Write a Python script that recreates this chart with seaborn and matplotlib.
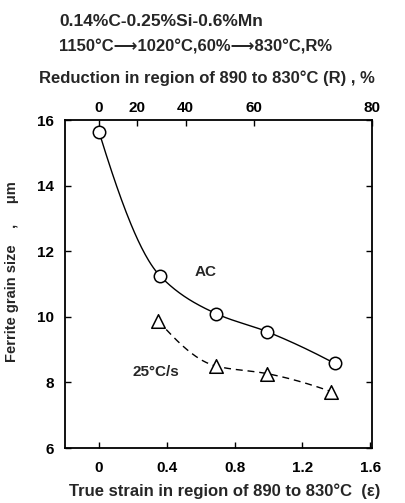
import numpy as np
import pandas as pd
import matplotlib
matplotlib.use("Agg")
import matplotlib.pyplot as plt
import seaborn as sns

# air cooled (AC)
ac_strain = [0.0, 0.36, 0.69, 0.99, 1.39]
ac_size = [15.65, 11.25, 10.1, 9.55, 8.58]
# cooled at 25 C/s
fc_strain = [0.35, 0.69, 0.99, 1.37]
fc_size = [9.88, 8.5, 8.27, 7.72]

strain_ticks = [0, 0.4, 0.8, 1.2, 1.6]
size_ticks = [6, 8, 10, 12, 14, 16]
reduction_ticks = [0, 20, 40, 60, 80]


def smooth(x, y, n=200):
    # monotone cubic (pchip) through the measured points, only used to draw the curve
    x = np.asarray(x, float)
    y = np.asarray(y, float)
    h = np.diff(x)
    d = np.diff(y) / h
    m = np.zeros_like(y)
    for k in range(1, len(x) - 1):
        if d[k - 1] * d[k] > 0:
            w1 = 2 * h[k] + h[k - 1]
            w2 = h[k] + 2 * h[k - 1]
            m[k] = (w1 + w2) / (w1 / d[k - 1] + w2 / d[k])
    m[0] = ((2 * h[0] + h[1]) * d[0] - h[0] * d[1]) / (h[0] + h[1])
    m[-1] = ((2 * h[-1] + h[-2]) * d[-1] - h[-1] * d[-2]) / (h[-1] + h[-2])
    xs = np.linspace(x[0], x[-1], n)
    idx = np.clip(np.searchsorted(x, xs) - 1, 0, len(x) - 2)
    t = (xs - x[idx]) / h[idx]
    h00 = 2 * t**3 - 3 * t**2 + 1
    h10 = t**3 - 2 * t**2 + t
    h01 = -2 * t**3 + 3 * t**2
    h11 = t**3 - t**2
    ys = h00 * y[idx] + h10 * h[idx] * m[idx] + h01 * y[idx + 1] + h11 * h[idx] * m[idx + 1]
    return pd.DataFrame({"strain": xs, "size": ys})


sns.set_theme(style="ticks")
plt.rcParams["font.family"] = ["Liberation Sans", "DejaVu Sans"]
plt.rcParams["font.weight"] = "bold"
plt.rcParams["axes.labelweight"] = "bold"
plt.rcParams["font.size"] = 11

fig = plt.figure(figsize=(4.05, 5.03), dpi=100)
ax = fig.add_axes([0.1605, 0.1093, 0.758, 0.652])

ac_curve = smooth(ac_strain, ac_size)
fc_curve = smooth(fc_strain, fc_size)
sns.lineplot(data=ac_curve, x="strain", y="size", sort=False, estimator=None,
             color="black", lw=1.0, ax=ax)
sns.lineplot(data=fc_curve, x="strain", y="size", sort=False, estimator=None,
             color="black", lw=1.0, linestyle=(0, (5, 3.5)), ax=ax)
sns.scatterplot(x=ac_strain, y=ac_size, marker="o", s=80, facecolor="white",
                edgecolor="black", linewidth=1.1, zorder=3, ax=ax)
sns.scatterplot(x=fc_strain, y=fc_size, marker="^", s=95, facecolor="white",
                edgecolor="black", linewidth=1.1, zorder=3, ax=ax)

ax.set_xlim(-0.2, 1.61)
ax.set_ylim(6, 16)
ax.set_xticks(strain_ticks)
ax.set_xticklabels(["0", "0.4", "0.8", "1.2", "1.6"])
ax.set_yticks(size_ticks)
ax.tick_params(direction="in", length=4, width=1, colors="black",
               left=True, right=True, bottom=True, top=False, labelsize=11)
ax.tick_params(axis="x", pad=9)
ax.tick_params(axis="y", pad=8)
for sp in ax.spines.values():
    sp.set_visible(True)
    sp.set_linewidth(1.3)
    sp.set_color("black")

ax.set_xlabel("True strain in region of 890 to 830°C  (ε)", fontsize=12)
ax.xaxis.set_label_coords(0.521, -0.131)
ax.xaxis.label.set_va("center")
ax.set_ylabel("Ferrite grain size    ,     μm", fontsize=10.5)
ax.yaxis.set_label_coords(-0.173, 0.537)
ax.yaxis.label.set_va("center")

ax.text(0.63, 11.37, "AC", ha="center", va="center")
ax.text(0.338, 8.33, "25°C/s", ha="center", va="center")

# reduction (%) axis on top: strain = -ln(1 - R/100)
ax2 = ax.twiny()
ax2.set_xlim(ax.get_xlim())
ax2.set_xticks(-np.log(1 - np.array(reduction_ticks) / 100))
ax2.set_xticklabels([str(r) for r in reduction_ticks])
ax2.tick_params(direction="in", length=4, width=1, colors="black", pad=4, labelsize=11)
for sp in ax2.spines.values():
    sp.set_visible(False)
ax2.set_xlabel("Reduction in region of 890 to 830°C (R) , %", fontsize=12)
ax2.xaxis.set_label_coords(0.461, 1.128)
ax2.xaxis.label.set_va("center")

fig.text(59 / 405, 1 - 21.7 / 503, "0.14%C-0.25%Si-0.6%Mn", ha="left", va="center", fontsize=12.5)
fig.text(59 / 405, 1 - 46.7 / 503, "1150°C⟶1020°C,60%⟶830°C,R%", ha="left", va="center",
         fontsize=12, family=["Liberation Sans", "DejaVu Sans"])

fig.savefig("out.png", dpi=100)
